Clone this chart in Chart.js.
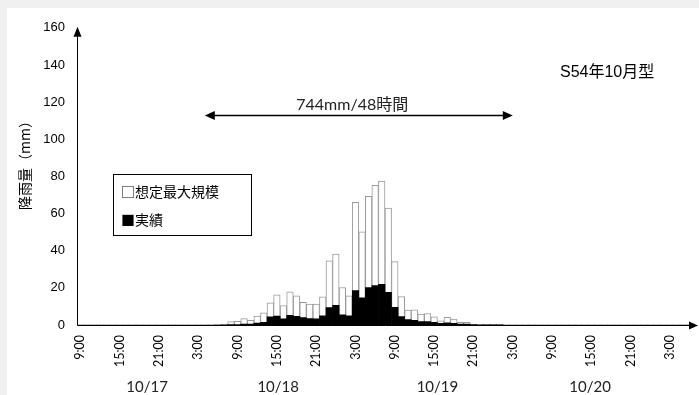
<!DOCTYPE html>
<html><head><meta charset="utf-8">
<script src="https://cdn.jsdelivr.net/npm/chart.js@4"></script>
<style>
html,body{margin:0;padding:0;background:#f0f0f0;width:699px;height:395px;overflow:hidden}
#wrap{position:absolute;left:7px;top:8px;width:692px;height:387px;background:#fff}
canvas{display:block}
</style></head><body>
<div id="wrap"><canvas id="c" width="692" height="387"></canvas></div>
<script>
// Hourly categories from 10/17 9:00 to 10/21 6:00
const categories = [
 '9:00','10:00','11:00','12:00','13:00','14:00','15:00','16:00','17:00','18:00','19:00','20:00','21:00','22:00','23:00',
 '0:00','1:00','2:00','3:00','4:00','5:00','6:00','7:00','8:00','9:00','10:00','11:00','12:00','13:00','14:00','15:00','16:00','17:00','18:00','19:00','20:00','21:00','22:00','23:00',
 '0:00','1:00','2:00','3:00','4:00','5:00','6:00','7:00','8:00','9:00','10:00','11:00','12:00','13:00','14:00','15:00','16:00','17:00','18:00','19:00','20:00','21:00','22:00','23:00',
 '0:00','1:00','2:00','3:00','4:00','5:00','6:00','7:00','8:00','9:00','10:00','11:00','12:00','13:00','14:00','15:00','16:00','17:00','18:00','19:00','20:00','21:00','22:00','23:00',
 '0:00','1:00','2:00','3:00','4:00','5:00','6:00'
];
// 想定最大規模 (mm/h)
const maxScale = [
 0,0,0,0,0,0,0,0,0,0,0,0,0,0,0,0,0,0,0,0,0,
 0.3,0.5,1.8,2.0,3.4,2.5,4.8,6.6,11.9,16.2,10.5,17.8,15.7,12.2,11.2,11.2,15.1,34.5,38.2,20.2,15.7,
 66.1,50.1,69.3,75.2,77.5,62.9,34.1,15.3,8.0,8.2,5.9,6.2,4.4,2.3,4.1,3.2,1.4,1.4,0.5,0.4,0.3,0.3,0.3,
 0,0,0,0,0,0,0,0,0,0,0,0,0,0,0,0,0,0,0,0,0,0,0,0,0,0,0,0,0
];
// 実績 (mm/h)
const actual = [
 0,0,0,0,0,0,0,0,0,0,0,0,0,0,0,0,0,0,0,0,0,0,
 0.1,0.2,0.3,0.5,0.5,1.0,1.5,4.4,4.8,3.4,5.2,4.7,4.0,3.5,3.4,5.0,9.4,10.6,5.5,5.0,
 18.5,14.6,20.1,21.3,21.9,17.6,9.5,4.6,3.0,2.5,1.8,1.8,1.4,0.9,1.2,0.9,0.5,0.5,0.2,0.1,0.1,0.1,0.1,
 0,0,0,0,0,0,0,0,0,0,0,0,0,0,0,0,0,0,0,0,0,0,0,0,0,0,0,0,0
];
const tickEvery = 6;
const dateLabels = ['10/17','10/18','10/19','10/20'];
const datePositions = [10.2, 30.2, 54.5, 77.8];
const yTicks = [0,20,40,60,80,100,120,140,160];
const legendLabels = ['□想定最大規模','■実績'];
const spanText = '744mm/48時間';
const spanRange = [19, 66];
const spanLevel = 113;
const typeText = 'S54年10月型';
const yTitle = '降雨量（mm）';

const overlay = {
  id: 'overlay',
  afterDatasetsDraw(chart) {
    const {ctx, chartArea: a, scales: {x, y}} = chart;
    ctx.save();
    ctx.strokeStyle = '#000'; ctx.fillStyle = '#000'; ctx.lineWidth = 1;
    const ax = Math.round(a.left) + 0.5, ab = Math.round(a.bottom) + 0.5;
    const top = y.getPixelForValue(160);
    // y axis with arrow
    ctx.beginPath(); ctx.moveTo(ax, ab); ctx.lineTo(ax, top + 5); ctx.stroke();
    ctx.beginPath(); ctx.moveTo(ax, top - 1); ctx.lineTo(ax - 4, top + 9); ctx.lineTo(ax + 4, top + 9); ctx.closePath(); ctx.fill();
    // x axis with arrow
    const tipX = chart.width - 1;
    ctx.beginPath(); ctx.moveTo(ax, ab); ctx.lineTo(tipX - 5, ab); ctx.stroke();
    ctx.beginPath(); ctx.moveTo(tipX, ab); ctx.lineTo(tipX - 9, ab - 4); ctx.lineTo(tipX - 9, ab + 4); ctx.closePath(); ctx.fill();

    // span arrow
    const x1 = x.getPixelForValue(spanRange[0]), x2 = x.getPixelForValue(spanRange[1]);
    const sy = Math.round(y.getPixelForValue(spanLevel)) + 0.5;
    ctx.beginPath(); ctx.moveTo(x1 + 6, sy); ctx.lineTo(x2 - 6, sy); ctx.lineWidth = 1.5; ctx.stroke();
    ctx.beginPath(); ctx.moveTo(x1, sy); ctx.lineTo(x1 + 10, sy - 4.5); ctx.lineTo(x1 + 10, sy + 4.5); ctx.closePath(); ctx.fill();
    ctx.beginPath(); ctx.moveTo(x2, sy); ctx.lineTo(x2 - 10, sy - 4.5); ctx.lineTo(x2 - 10, sy + 4.5); ctx.closePath(); ctx.fill();
    ctx.font = '16px Lato, "Noto Sans CJK JP", sans-serif';
    ctx.textAlign = 'center'; ctx.textBaseline = 'middle'; ctx.fillStyle = '#222';
    ctx.fillText(spanText, x.getPixelForValue(41.5), y.getPixelForValue(118.5));

    // type label
    ctx.font = '16px "Liberation Sans", "Noto Sans CJK JP", sans-serif';
    ctx.textAlign = 'left'; ctx.fillStyle = '#000';
    ctx.fillText(typeText, x.getPixelForValue(73.2), y.getPixelForValue(136));

    // legend box
    const lx = a.left + 36, ly = 166;
    ctx.fillStyle = '#fff'; ctx.fillRect(lx, ly, 138, 61);
    ctx.strokeStyle = '#000'; ctx.lineWidth = 1; ctx.strokeRect(lx + 0.5, ly + 0.5, 138, 61);
    ctx.fillStyle = '#000';
    ctx.font = '14px "Noto Sans CJK JP", sans-serif';
    ctx.textAlign = 'left'; ctx.textBaseline = 'middle';
    ctx.fillText(legendLabels[0], lx + 8, ly + 18);
    ctx.fillText(legendLabels[1], lx + 8, ly + 46);

    // y title
    ctx.save();
    ctx.translate(18, 154); ctx.rotate(-Math.PI / 2);
    ctx.font = '14px "Noto Sans CJK JP", sans-serif';
    ctx.textAlign = 'center'; ctx.textBaseline = 'middle';
    ctx.fillText(yTitle, 0, 0);
    ctx.restore();

    // date labels
    ctx.font = '15px Lato, sans-serif';
    ctx.fillStyle = '#222'; ctx.textAlign = 'center'; ctx.textBaseline = 'middle';
    dateLabels.forEach((d, i) => ctx.fillText(d, x.getPixelForValue(datePositions[i]), 379));
    ctx.restore();
  }
};

new Chart(document.getElementById('c'), {
  type: 'bar',
  data: {
    labels: categories,
    datasets: [
      {label: '実績', data: actual, backgroundColor: '#000', borderWidth: 0,
       barPercentage: 1, categoryPercentage: 1, inflateAmount: 0.3},
      {label: '想定最大規模', data: maxScale, backgroundColor: '#fff', borderColor: '#9a9a9a', borderWidth: 1,
       barPercentage: 1, categoryPercentage: 1}
    ]
  },
  options: {
    responsive: false, animation: false,
    layout: {padding: {top: 17, right: 6, left: 0, bottom: 0}},
    plugins: {legend: {display: false}, tooltip: {enabled: false}},
    scales: {
      x: {
        stacked: true, offset: true,
        grid: {display: false, drawTicks: false}, border: {display: false},
        ticks: {
          autoSkip: false, maxRotation: 90, minRotation: 90, padding: 10,
          color: '#000', font: {family: 'Lato', size: 12.5},
          callback: (v, i) => (i % tickEvery === 0 ? categories[i] : null)
        },
        afterFit: s => { s.height = 70; }
      },
      y: {
        stacked: false, min: 0, max: 160,
        grid: {display: false, drawTicks: false}, border: {display: false},
        afterBuildTicks: s => { s.ticks = yTicks.map(v => ({value: v})); },
        ticks: {padding: 12, color: '#000', font: {family: 'Liberation Sans', size: 13}},
        afterFit: s => { s.width = 70; }
      }
    }
  },
  plugins: [overlay]
});
</script>
</body></html>
